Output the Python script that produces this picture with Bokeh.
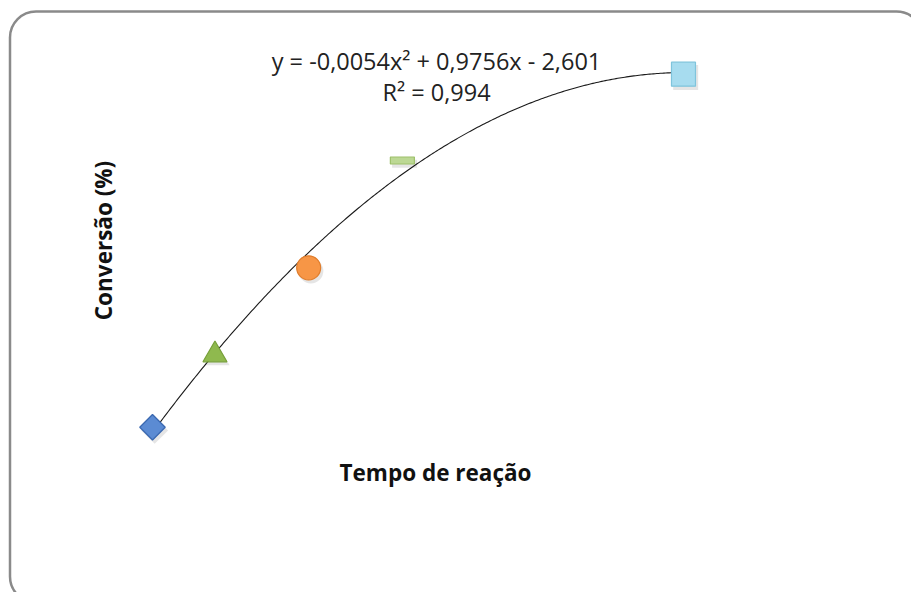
import numpy as np
from bokeh.plotting import figure
from bokeh.models import Label, BoxAnnotation, Range1d, ColumnDataSource
from bokeh.transform import dodge
from bokeh.embed import file_html
from bokeh.resources import INLINE

# Reaction time and conversion (%) for each run
tempo = [5, 15, 30, 45, 90]
conversao = [2.72, 10.62, 20.13, 31.85, 41.28]

# Second-order polynomial trendline and its R²
coef_a = -0.0054
coef_b = 0.9756
coef_c = -2.601
r_quadrado = 0.994

titulo_x = "Tempo de reação"
titulo_y = "Conversão (%)"

# Canvas geometry: the plot frame fills the whole canvas and the ranges
# are chosen so that the data sit where the chart layout wants them.
W, H = 911, 592
X0, X1 = -19.33, 126.5
Y0, Y1 = -15.335, 49.329
FONT = "Open Sans"


def sx(px):
    return X0 + px * (X1 - X0) / W


def sy(py):
    return Y1 - py * (Y1 - Y0) / H


p = figure(width=W, height=H, x_range=Range1d(X0, X1), y_range=Range1d(Y0, Y1),
           output_backend="svg", toolbar_location=None,
           x_axis_location=None, y_axis_location=None, min_border=0,
           outline_line_color=None, background_fill_color="white",
           border_fill_color="white")
p.grid.visible = False

# rounded chart-area border
p.add_layout(BoxAnnotation(left=sx(9.5), right=sx(922), top=sy(11), bottom=sy(602),
                           fill_alpha=0, line_color="#8a8a8a", line_alpha=1,
                           line_width=2.5, border_radius=26))

# trendline drawn from the fitted coefficients
xs = np.linspace(min(tempo), max(tempo), 300)
ys = coef_a * xs ** 2 + coef_b * xs + coef_c
p.line(xs, ys, line_color="#1a1a1a", line_width=1.1)


def ponto(i):
    return ColumnDataSource(dict(x=[tempo[i]], y=[conversao[i]]))


# soft drop shadows behind the markers
sh = dict(fill_color="#000000", fill_alpha=0.10, line_color=None)
sxo, syo = dodge("x", 0.35), dodge("y", -0.35)
p.scatter(x=sxo, y=syo, source=ponto(0), marker="square", angle=np.pi / 4, size=19, **sh)
p.scatter(x=sxo, y=syo, source=ponto(1), marker="triangle", size=25, **sh)
p.scatter(x=sxo, y=syo, source=ponto(2), marker="circle", size=25, **sh)
p.rect(x=sxo, y=syo, source=ponto(3), width=25, height=8,
       width_units="screen", height_units="screen", **sh)
p.scatter(x=sxo, y=syo, source=ponto(4), marker="square", size=25, **sh)

# one marker style per run
p.scatter(x="x", y="y", source=ponto(0), marker="square", angle=np.pi / 4, size=18,
          fill_color="#5b8bd3", line_color="#3a68b0", line_width=1.3)
p.scatter(x="x", y="y", source=ponto(1), marker="triangle", size=24,
          fill_color="#8fb94e", line_color="#77a03a", line_width=1.2)
p.scatter(x="x", y="y", source=ponto(2), marker="circle", size=24,
          fill_color="#f79646", line_color="#e07d2c", line_width=1.2)
p.rect(x="x", y="y", source=ponto(3), width=24, height=7,
       width_units="screen", height_units="screen",
       fill_color="#bcd894", line_color="#9dc06a", line_width=1.2)
p.scatter(x="x", y="y", source=ponto(4), marker="square", size=24,
          fill_color="#a7dcef", line_color="#7fc4dc", line_width=1.2)


def num(v, d):
    return f"{v:.{d}f}".replace(".", ",")


eq = f"y = {num(coef_a, 4)}x² + {num(coef_b, 4)}x - {num(abs(coef_c), 3)}"
p.add_layout(Label(x=sx(436), y=sy(60), text=eq, text_align="center",
                   text_baseline="middle", text_font=FONT, text_font_size="23.5px",
                   text_color="#222222"))
p.add_layout(Label(x=sx(436), y=sy(91), text=f"R² = {num(r_quadrado, 3)}",
                   text_align="center", text_baseline="middle", text_font=FONT,
                   text_font_size="23.5px", text_color="#222222"))

# axis titles
p.add_layout(Label(x=sx(435), y=sy(472), text=titulo_x, text_align="center",
                   text_baseline="middle", text_font=FONT, text_font_size="22.5px",
                   text_font_style="bold", text_color="#111111"))
p.add_layout(Label(x=sx(103), y=sy(240), text=titulo_y, text_align="center",
                   text_baseline="middle", text_font=FONT, text_font_size="22.5px",
                   text_font_style="bold", text_color="#111111", angle=np.pi / 2))

open("out.html", "w").write(file_html(p, INLINE))
